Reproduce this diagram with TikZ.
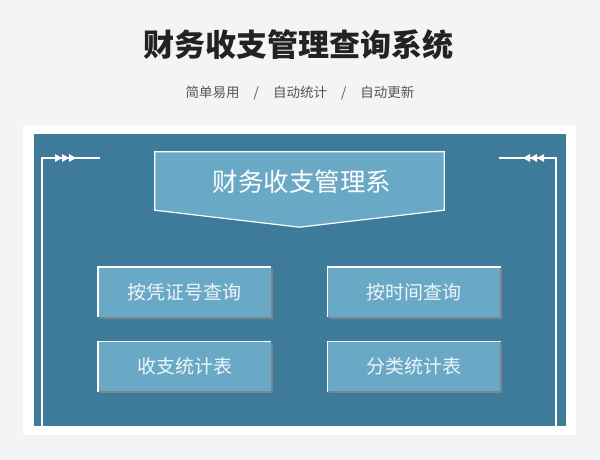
\documentclass[tikz,border=0pt]{standalone}
\usepackage{fontspec}
\setmainfont{Noto Sans CJK SC}
\usetikzlibrary{positioning,calc,shadows}
\definecolor{pagebg}{HTML}{F3F4F6}
\definecolor{panelblue}{HTML}{3E7A9A}
\definecolor{tileblue}{HTML}{69A9C5}
\definecolor{tileshade}{HTML}{7B868C}
\definecolor{titlegray}{HTML}{222222}
\definecolor{subgray}{HTML}{555555}

\begin{document}
\begin{tikzpicture}[x=1pt, y=-1pt,
    node distance=24pt and 56pt,
    menubox/.style={rectangle, fill=tileblue, minimum width=173pt, minimum height=50pt, inner sep=0pt,
        text=white!88!tileblue, font=\fontsize{19}{19}\selectfont,
        general shadow={fill=tileshade, shadow xshift=2pt, shadow yshift=-2pt}},
    bannerbox/.style={rectangle, minimum width=289pt, minimum height=58pt, inner sep=0pt},
    bevel/.style={white, line width=1.4pt},
    frame/.style={white, line width=1.2pt}
]

% Page and card
\useasboundingbox (0,0) rectangle (600,460);
\fill[pagebg] (0,0) rectangle (600,460);
\fill[black!5] (25,128) rectangle (578,438);
\fill[white] (23,125) rectangle (576,435);
\fill[panelblue] (34,134) rectangle (566,426);

% Heading
\node[font=\fontsize{31}{31}\selectfont\bfseries, text=titlegray] (title) at (298,45) {财务收支管理查询系统};
\node[font=\fontsize{13.5}{13.5}\selectfont, text=subgray] (tagline) at (300,93)
    {简单易用\hspace{14pt}/\hspace{14pt}自动统计\hspace{14pt}/\hspace{14pt}自动更新};

% Side brackets
\draw[frame] (42,426) -- (42,158) -- (100,158);
\draw[frame] (556,426) -- (556,158) -- (499,158);
\foreach \x in {55,62,69} \fill[white] (\x,154) -- (\x+7,158) -- (\x,162) -- cycle;
\foreach \x in {544,537,530} \fill[white] (\x,154) -- (\x-7,158) -- (\x,162) -- cycle;

% Banner
\node[bannerbox] (banner) at (299.5,181) {};
\filldraw[fill=tileblue, draw=white, line width=1.2pt] (banner.north west) -- (banner.north east)
    -- (banner.south east) -- ($(banner.south)+(0,17)$) -- (banner.south west) -- cycle;
\node[font=\fontsize{25.5}{25.5}\selectfont, text=white] (bannertext) at (302,182) {财务收支管理系};

% Menu boxes
\node[menubox] (byvoucher) at (184.5,292) {按凭证号查询};
\node[menubox, below=of byvoucher] (summary) {收支统计表};
\node[menubox, right=of byvoucher] (bytime) {按时间查询};
\node[menubox, below=of bytime] (category) {分类统计表};

% Bevel edges
\foreach \b in {byvoucher,summary,bytime,category}
    \draw[bevel] (\b.south west) -- (\b.north west) -- (\b.north east);

\end{tikzpicture}
\end{document}
